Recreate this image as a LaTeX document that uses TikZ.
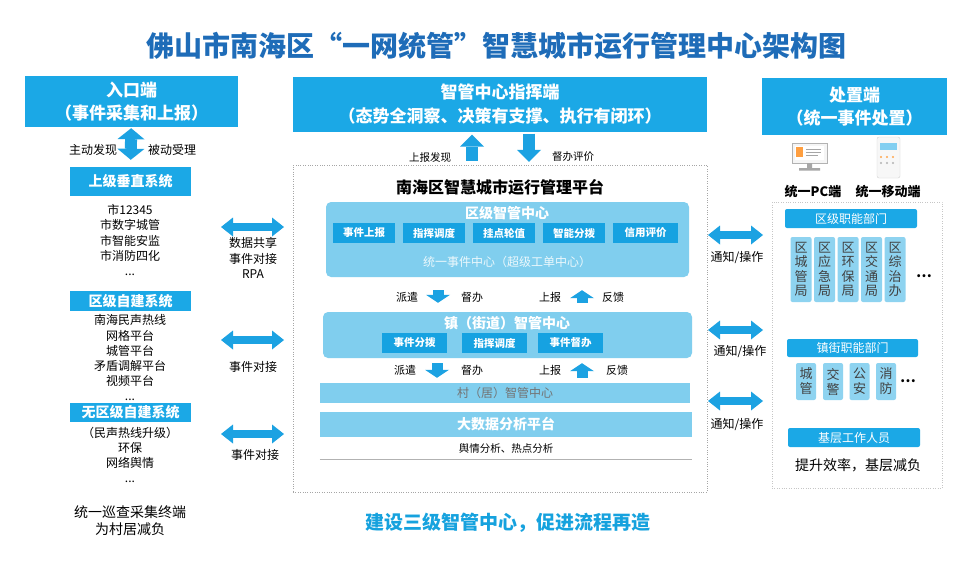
\documentclass[tikz,border=0pt]{standalone}
\usepackage{fontspec}
\setmainfont{Noto Sans CJK SC}
\usepackage{xcolor}
\usepackage{tikz}
\usetikzlibrary{arrows.meta}

\definecolor{hdrblue}{RGB}{27,168,230}
\definecolor{panelblue}{RGB}{128,206,238}
\definecolor{funcblue}{RGB}{22,162,225}
\definecolor{cellblue}{RGB}{142,211,240}
\definecolor{arrblue}{RGB}{28,162,226}
\definecolor{titleblue}{RGB}{30,108,184}
\definecolor{sloganblue}{RGB}{22,162,222}

\newcommand\setfs[2]{\fontsize{#1}{#2}\selectfont}

\tikzset{
	hdr/.style={fill=hdrblue, text=white, font=\setfs{17}{23}\bfseries, align=center, inner sep=0pt},
	tag/.style={fill=hdrblue, text=white, font=\setfs{14}{16}\bfseries, inner sep=0pt, minimum width=121pt},
	lst/.style={font=\setfs{12}{15.2}, align=center, inner sep=0pt},
	lbl/.style={font=\setfs{11}{13}, inner sep=0pt},
	panel/.style={fill=panelblue, rounded corners=5pt, inner sep=0pt},
	func/.style={fill=funcblue, text=white, font=\setfs{10.5}{12}\bfseries, inner sep=0pt, minimum height=20pt},
	cell/.style={fill=cellblue, rounded corners=2pt, inner sep=0pt, font=\setfs{13}{14.2}, align=center, text=black!75},
	dept/.style={fill=hdrblue, text=white, font=\setfs{12}{14}, rounded corners=2pt, inner sep=0pt},
	hdbl/.style={draw=arrblue, line width=8pt, {Triangle[length=12pt,width=19pt,line width=0pt]}-{Triangle[length=12pt,width=19pt,line width=0pt]}},
	vdbl/.style={draw=arrblue, line width=12pt, {Triangle[length=11pt,width=27pt,line width=0pt]}-{Triangle[length=11pt,width=27pt,line width=0pt]}},
	vone/.style={draw=arrblue, line width=12pt, -{Triangle[length=12pt,width=24pt,line width=0pt]}},
	vsmall/.style={draw=arrblue, line width=11pt, -{Triangle[length=8pt,width=24pt,line width=0pt]}},
}

\begin{document}
\begin{tikzpicture}[x=1pt,y=-1pt]
		\def\cw{21pt}
		\useasboundingbox (0,0) rectangle (960,568);
		\fill[white] (0,0) rectangle (960,568);
		\node[font=\setfs{28}{30}\bfseries, text=titleblue] (title) at (496,46) {佛山市南海区“一网统管”智慧城市运行管理中心架构图};

		% left column
		\node[hdr, minimum width=213pt, minimum height=51pt] (entry) at (131.5,101.5) {入口端\\（事件采集和上报）};
		\node[tag, minimum height=29pt] (upsys) at (130.5,181.5) {上级垂直系统};
		\draw[vdbl, shorten <=1pt, shorten >=7pt] (entry) -- (upsys);
		\node[lbl, font=\setfs{12}{14}] (active) at (93,150) {主动发现};
		\node[lbl, font=\setfs{12}{14}] (passive) at (172,150) {被动受理};
		\node[lst] (uplist) at (130,240) {市12345\\市数字城管\\市智能安监\\市消防四化\\...};
		\node[tag, minimum height=20pt] (distsys) at (130.5,301) {区级自建系统};
		\node[lst] (distlist) at (130,358) {南海民声热线\\网格平台\\城管平台\\矛盾调解平台\\视频平台\\...};
		\node[tag, minimum height=19pt] (nosys) at (130.5,412.5) {无区级自建系统};
		\node[lst] (nolist) at (130,455) {（民声热线升级）\\环保\\网络舆情\\...};
		\node[lst, font=\setfs{14}{17}] (patrol) at (130,521) {统一巡查采集终端\\为村居减负};

		\coordinate (la1) at (221,227);
		\coordinate (lb1) at (284,227);
		\coordinate (la2) at (221,340);
		\coordinate (lb2) at (284,340);
		\coordinate (la3) at (221,434);
		\coordinate (lb3) at (284,434);
		\draw[hdbl] (la1) -- (lb1);
		\draw[hdbl] (la2) -- (lb2);
		\draw[hdbl] (la3) -- (lb3);
		\node[lst] (share) at (253,258) {数据共享\\事件对接\\RPA};
		\node[lst] (dock1) at (253,367) {事件对接};
		\node[lst] (dock2) at (255,455) {事件对接};

		% centre column
		\node[hdr, font=\setfs{17}{24}\bfseries, minimum width=414pt, minimum height=55pt] (command) at (500,104) {智管中心指挥端\\（态势全洞察、决策有支撑、执行有闭环）};
		\node[draw=gray!70, dotted, minimum width=414pt, minimum height=327pt, inner sep=0pt] (platform) at (500,328.5) {};
		\draw[vone, shorten <=4pt, shorten >=3pt] ([xshift=-28pt]platform.north) -- ([xshift=-28pt]command.south);
		\draw[vone, shorten <=2pt, shorten >=3pt] ([xshift=29pt]command.south) -- ([xshift=29pt]platform.north);
		\node[lbl, font=\setfs{10.5}{12}] (found) at (430,157) {上报发现};
		\node[lbl, font=\setfs{10.5}{12}] (judge) at (573,157) {督办评价};
		\node[font=\setfs{16}{18}\bfseries] (ptitle) at (500,187) {南海区智慧城市运行管理平台};

		\node[panel, minimum width=363pt, minimum height=75pt] (district) at (507.5,239.5) {};
		\node[font=\setfs{14}{16}\bfseries, text=white] (disttitle) at (507,213) {区级智管中心};
		\foreach \x/\w/\t [count=\i] in {364/62/事件上报, 434/62/指挥调度, 504/62/挂点轮值, 574/62/智能分拨, 645.5/65/信用评价}
			\node[func, minimum width=\w pt] (df\i) at (\x,233) {\t};
		\node[font=\setfs{12}{14}, text=white!85!panelblue] (unified) at (507,262) {统一事件中心（超级工单中心）};

		\node[panel, minimum width=369pt, minimum height=46pt] (town) at (507.5,335) {};
		\node[font=\setfs{14}{16}\bfseries, text=white] (towntitle) at (507,323) {镇（街道）智管中心};
		\foreach \x/\t [count=\i] in {414.5/事件分拨, 494.5/指挥调度, 570.5/事件督办}
			\node[func, minimum width=65pt] (tf\i) at (\x,343) {\t};

		\draw[vsmall, shorten <=13pt, shorten >=9pt] ([xshift=-69.5pt]district.south) -- ([xshift=-69.5pt]town.north);
		\draw[vsmall, shorten <=9pt, shorten >=13pt] ([xshift=74.5pt]town.north) -- ([xshift=74.5pt]district.south);
		\node[lbl] (send1) at (407,297) {派遣};
		\node[lbl] (urge1) at (472,297) {督办};
		\node[lbl] (rep1) at (550,297) {上报};
		\node[lbl] (back1) at (613,297) {反馈};

		\node[fill=panelblue, minimum width=370pt, minimum height=20pt, inner sep=0pt, font=\setfs{12}{14}, text=black!55] (village) at (505,393) {村（居）智管中心};
		\draw[vsmall, shorten <=5pt, shorten >=5pt] ([xshift=-70.5pt]town.south) -- ([xshift=-68pt]village.north);
		\draw[vsmall, shorten <=5pt, shorten >=5pt] ([xshift=77pt]village.north) -- ([xshift=74.5pt]town.south);
		\node[lbl] (send2) at (405,370) {派遣};
		\node[lbl] (urge2) at (472,370) {督办};
		\node[lbl] (rep2) at (550,370) {上报};
		\node[lbl] (back2) at (617,370) {反馈};

		\node[fill=panelblue, minimum width=372pt, minimum height=25pt, inner sep=0pt, font=\setfs{14}{16}\bfseries, text=white] (bigdata) at (506,424.5) {大数据分析平台};
		\node[fill=white, minimum width=372pt, minimum height=22pt, inner sep=0pt, font=\setfs{10.5}{12}, anchor=north] (analysis) at (bigdata.south) {舆情分析、热点分析};
		\draw[black!30, line width=1.2pt] (analysis.south west) -- (analysis.south east);

		% right column
		\node[hdr, minimum width=185pt, minimum height=57pt] (dispose) at (854.5,106.5) {处置端\\（统一事件处置）};
		\draw[gray!60, fill=gray!8] (792,143) rectangle (827,163);
		\fill[white] (795,146) rectangle (824,160);
		\fill[orange!75] (796,147) rectangle (803,157);
		\draw[gray!70, line width=0.8pt] (806,149) -- (821,149) (806,152) -- (821,152) (806,155) -- (818,155);
		\fill[gray!70] (807,163) rectangle (812,168) (799,168) rectangle (820,170.5);
		\draw[gray!35, fill=gray!6, rounded corners=2pt] (877,137) rectangle (900,178);
		\fill[hdrblue!55] (880,143) rectangle (897,150);
		\fill[orange!70] (881,157) circle (1.2pt) (887,157) circle (1.2pt) (893,157) circle (1.2pt);
		\fill[gray!60] (881,163) circle (1.2pt) (887,163) circle (1.2pt) (893,163) circle (1.2pt);
		\node[font=\setfs{13}{15}\bfseries] (pc) at (813,192) {统一PC端};
		\node[font=\setfs{13}{15}\bfseries] (mobile) at (888,192) {统一移动端};

		\node[draw=gray!45, dotted, minimum width=170pt, minimum height=286pt, inner sep=0pt] (disposal) at (857,345) {};
		\node[dept, minimum width=132pt, minimum height=19pt] (distdept) at (851,218.5) {区级职能部门};
		\foreach \x/\t [count=\i] in {801/区\\城\\管\\局, 824.5/区\\应\\急\\局, 848/区\\环\\保\\局, 871.5/区\\交\\通\\局, 895/区\\综\\治\\办}
			\node[cell, minimum width=\cw, minimum height=65pt] (dc\i) at (\x,269.5) {\t};
		\node[font=\setfs{14}{16}\bfseries] (dmore) at (924,276) {…};
		\node[dept, minimum width=131pt, minimum height=18pt] (towndept) at (852.5,348) {镇街职能部门};
		\foreach \x/\t [count=\i] in {806/城\\管, 833/交\\警, 859.5/公\\安, 886/消\\防}
			\node[cell, minimum width=20pt, minimum height=37pt, font=\setfs{13}{15}] (tc\i) at (\x,381.5) {\t};
		\node[font=\setfs{14}{16}\bfseries] (tmore) at (908,381) {…};
		\node[dept, minimum width=132pt, minimum height=19pt] (staff) at (854,437.5) {基层工作人员};
		\node[font=\setfs{14}{16}] (relief) at (858,465) {提升效率，基层减负};

		\coordinate (ra1) at (708,235);
		\coordinate (rb1) at (763,235);
		\coordinate (ra2) at (708,330);
		\coordinate (rb2) at (763,330);
		\coordinate (ra3) at (708,401);
		\coordinate (rb3) at (763,401);
		\draw[hdbl] (ra1) -- (rb1);
		\draw[hdbl] (ra2) -- (rb2);
		\draw[hdbl] (ra3) -- (rb3);
		\node[lst] (notify1) at (737,258) {通知/操作};
		\node[lst] (notify2) at (740,352) {通知/操作};
		\node[lst] (notify3) at (737,425) {通知/操作};

		\node[font=\setfs{19}{21}\bfseries, text=sloganblue] (slogan) at (508,523) {建设三级智管中心，促进流程再造};
	\end{tikzpicture}
\end{document}
